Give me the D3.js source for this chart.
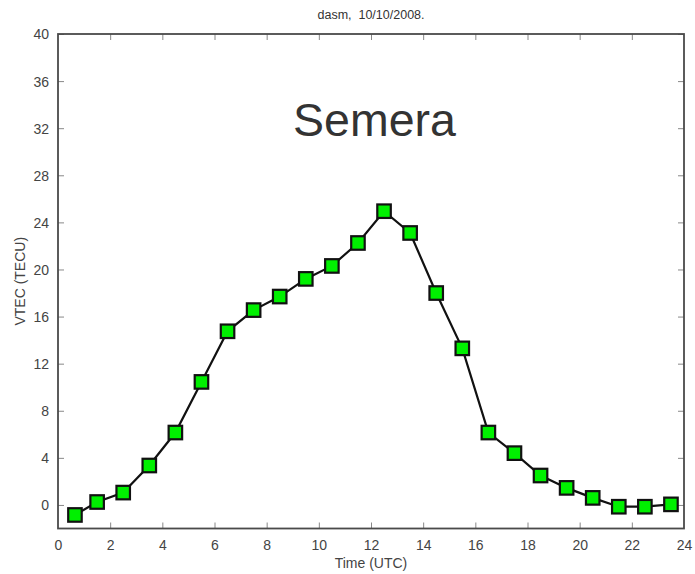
<!DOCTYPE html>
<html>
<head>
<meta charset="utf-8">
<script src="https://cdn.jsdelivr.net/npm/d3@7"></script>
<style>
  html, body { margin: 0; padding: 0; background: #fff; }
  svg { display: block; font-family: "Liberation Sans", Arial, Helvetica, sans-serif; }
</style>
</head>
<body>
<svg id="chart" width="695" height="574"></svg>
<script>
// Hourly VTEC at the dasm station, 10 Oct 2008
const hours = [0.65, 1.5, 2.5, 3.5, 4.5, 5.5, 6.5, 7.5, 8.5, 9.5, 10.5, 11.5,
               12.5, 13.5, 14.5, 15.5, 16.5, 17.5, 18.5, 19.5, 20.5, 21.5, 22.5, 23.5];
const vtec = [-0.85, 0.25, 1.05, 3.35, 6.15, 10.45, 14.75, 16.55, 17.7, 19.2, 20.3, 22.25,
              24.95, 23.1, 18.0, 13.3, 6.15, 4.4, 2.5, 1.45, 0.6, -0.15, -0.15, 0.05];
const xTicks = [0, 2, 4, 6, 8, 10, 12, 14, 16, 18, 20, 22, 24];
const yTicks = [0, 4, 8, 12, 16, 20, 24, 28, 32, 36, 40];

const title = "dasm,  10/10/2008.";
const station = "Semera";
const xLabel = "Time (UTC)";
const yLabel = "VTEC (TECU)";

const svg = d3.select("#chart");
const m = { left: 58, right: 684, top: 34, bottom: 528.5 };

const x = d3.scaleLinear().domain([0, 24]).range([m.left, m.right]);
const y = d3.scaleLinear().domain([-2, 40]).range([m.bottom, m.top]);

const axisColor = "#4a4a4a";
const textColor = "#444";
const tickLen = 6;

// Axes on all four sides with inward ticks
const gx = svg.append("g").attr("transform", `translate(0,${m.bottom})`)
  .call(d3.axisBottom(x).tickValues(xTicks).tickSizeInner(-tickLen).tickSizeOuter(0).tickPadding(12));
const gxTop = svg.append("g").attr("transform", `translate(0,${m.top})`)
  .call(d3.axisTop(x).tickValues(xTicks).tickSizeInner(-tickLen).tickSizeOuter(0).tickFormat(""));
const gy = svg.append("g").attr("transform", `translate(${m.left},0)`)
  .call(d3.axisLeft(y).tickValues(yTicks).tickSizeInner(-tickLen).tickSizeOuter(0).tickPadding(9));
const gyRight = svg.append("g").attr("transform", `translate(${m.right},0)`)
  .call(d3.axisRight(y).tickValues(yTicks).tickSizeInner(-tickLen).tickSizeOuter(0).tickFormat(""));

[gx, gxTop, gy, gyRight].forEach(g => {
  g.select(".domain").remove();
  g.selectAll(".tick line").attr("stroke", "#888").attr("stroke-width", 1);
  g.selectAll(".tick text").attr("fill", textColor).attr("font-size", 14)
    .attr("font-family", "Liberation Sans, Arial, sans-serif");
});
// The end ticks sit on the frame, so hide them
gx.selectAll(".tick line").filter(d => d === 0 || d === 24).remove();
gxTop.selectAll(".tick line").filter(d => d === 0 || d === 24).remove();
gy.selectAll(".tick text").attr("dy", "0.35em");

// Frame
svg.append("rect")
  .attr("x", m.left).attr("y", m.top)
  .attr("width", m.right - m.left).attr("height", m.bottom - m.top)
  .attr("fill", "none").attr("stroke", axisColor).attr("stroke-width", 1.8);

// Series line
const pts = hours.map((h, i) => [h, vtec[i]]);
svg.append("path")
  .datum(pts)
  .attr("fill", "none")
  .attr("stroke", "#111")
  .attr("stroke-width", 2.2)
  .attr("d", d3.line().x(d => x(d[0])).y(d => y(d[1])));

// Square markers
const s = 13.5;
svg.append("g").selectAll("rect")
  .data(pts)
  .join("rect")
  .attr("x", d => x(d[0]) - s / 2)
  .attr("y", d => y(d[1]) - s / 2)
  .attr("width", s).attr("height", s)
  .attr("fill", "#00f000")
  .attr("stroke", "#111")
  .attr("stroke-width", 2.2);

// Titles and labels
svg.append("text")
  .attr("x", (m.left + m.right) / 2).attr("y", 19)
  .attr("text-anchor", "middle").attr("font-size", 12.5).attr("fill", "#333")
  .attr("xml:space", "preserve")
  .text(title);

svg.append("text")
  .attr("x", 374.5).attr("y", 136)
  .attr("text-anchor", "middle").attr("font-size", 46.5).attr("fill", "#333")
  .text(station);

svg.append("text")
  .attr("x", (m.left + m.right) / 2).attr("y", 568)
  .attr("text-anchor", "middle").attr("font-size", 14).attr("fill", textColor)
  .text(xLabel);

svg.append("text")
  .attr("transform", `translate(25,${(m.top + m.bottom) / 2}) rotate(-90)`)
  .attr("text-anchor", "middle").attr("font-size", 14).attr("fill", textColor)
  .text(yLabel);
</script>
</body>
</html>
